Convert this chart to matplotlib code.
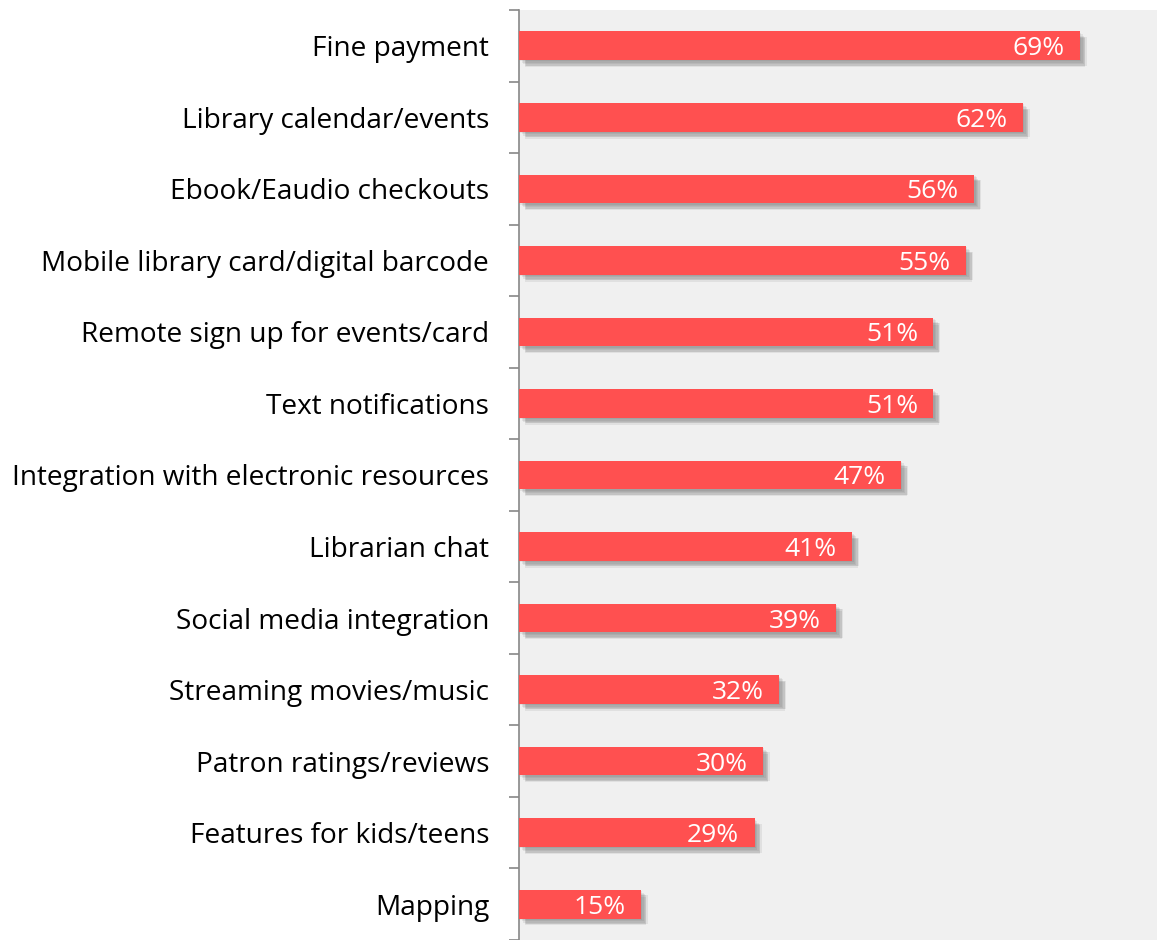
import matplotlib.pyplot as plt
import matplotlib.patheffects as pe
import numpy as np

features = [
    'Fine payment',
    'Library calendar/events',
    'Ebook/Eaudio checkouts',
    'Mobile library card/digital barcode',
    'Remote sign up for events/card',
    'Text notifications',
    'Integration with electronic resources',
    'Librarian chat',
    'Social media integration',
    'Streaming movies/music',
    'Patron ratings/reviews',
    'Features for kids/teens',
    'Mapping',
]
pct = [69, 62, 56, 55, 51, 51, 47, 41, 39, 32, 30, 29, 15]

plt.rcParams['font.family'] = ['Open Sans', 'DejaVu Sans']

fig = plt.figure(figsize=(11.57, 9.40), dpi=100)
ax = fig.add_axes([519/1157, 0, 1 - 519/1157, 1 - 10/940])
ax.set_facecolor('#F0F0F0')

y = np.arange(len(features))
bars = ax.barh(y, pct, height=0.4, color='#FF5050', zorder=3)

# soft drop shadow: a few stacked, slightly offset translucent copies
shadow = []
for dx, dy in [(1, -1), (2, -2), (3, -3), (4, -4), (5, -4), (4, -5)]:
    shadow.append(pe.SimplePatchShadow(offset=(dx, dy), shadow_rgbFace='#404040', alpha=0.09))
for b in bars:
    b.set_path_effects(shadow + [pe.Normal()])

for yi, v in zip(y, pct):
    ax.text(v - 1.9, yi, f'{v}%', ha='right', va='center_baseline', color='white',
            fontsize=19, zorder=4)

ax.set_xlim(0, 78.5)
ax.set_ylim(12.39, -0.5)
ax.set_xticks([])
ax.set_yticks(y)
ax.set_yticklabels(features, fontsize=20.2)
ax.tick_params(axis='y', which='major', length=0, pad=21.5)
ax.set_yticks(np.arange(-0.5, len(features), 1), minor=True)
ax.tick_params(axis='y', which='minor', length=7, color='#888888', width=1.2)

for s in ['top', 'right', 'bottom']:
    ax.spines[s].set_visible(False)
ax.spines['left'].set_color('#888888')
ax.spines['left'].set_linewidth(1.2)

fig.savefig('out.png', dpi=100, facecolor='white')
